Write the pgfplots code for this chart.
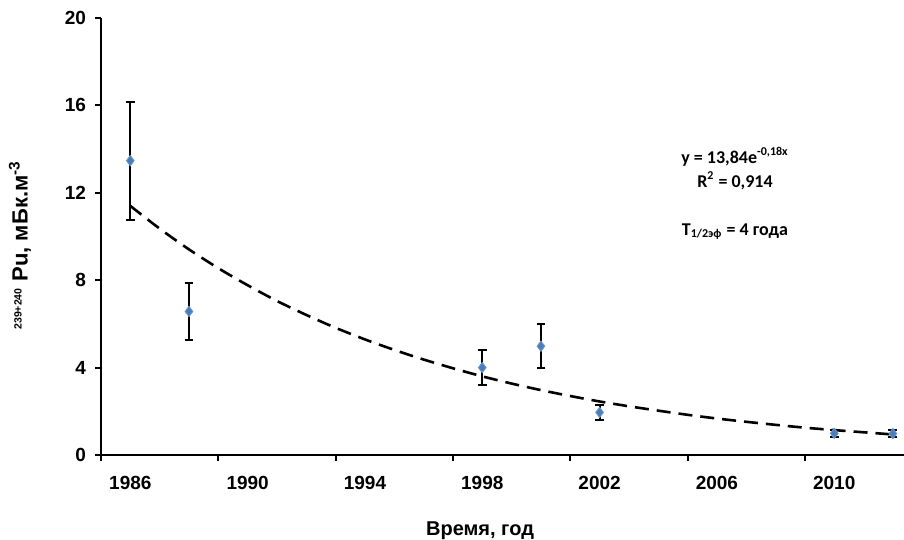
\documentclass[border=0pt]{standalone}
\usepackage{pgfplots}
\pgfplotsset{compat=1.18}
\usepackage{fontspec}
\setmainfont{Liberation Sans}
\newfontfamily\calib{Carlito}

\definecolor{ptblue}{RGB}{74,126,187}

\begin{document}
\begin{tikzpicture}
\begin{axis}[
    scale only axis,
    width=401.5pt, height=218.5pt,
    xmin=1985, xmax=2012.38,
    ymin=0, ymax=20,
    axis x line=bottom, axis y line=left,
    axis line style={-, line width=1pt},
    every tick/.style={black, line width=1pt},
    tick align=outside,
    major tick length=3pt,
    xtick={1985,1989,...,2009},
    xticklabels={},
    extra x ticks={1986,1990,...,2010},
    extra x tick style={major tick length=0pt},
    extra x tick labels={1986,1990,1994,1998,2002,2006,2010},
    ytick={0,4,...,20},
    /pgf/number format/assume math mode=true,
    /pgf/number format/1000 sep={},
    ticklabel style={font=\bfseries\fontsize{9.5}{11}\selectfont},
    xticklabel style={yshift=-7pt},
    yticklabel style={xshift=-1pt},
    xlabel={Время, год},
    xlabel style={font=\bfseries\fontsize{10}{12}\selectfont,
        at={(axis description cs:0.472,0)}, anchor=center, yshift=-38pt},
    ylabel={\fontsize{7.5}{8}\selectfont\textsuperscript{239+240}\fontsize{11}{12}\selectfont\ Pu, мБк.м\textsuperscript{-3}},
    ylabel style={font=\bfseries\fontsize{11}{12}\selectfont,
        at={(axis description cs:0,0.48)}, anchor=center, yshift=40.5pt},
    clip=false,
]
% trend line (exponential fit)
\addplot[black, line width=1.3pt, dash pattern=on 7pt off 4pt, smooth]
coordinates {
    (1986,11.40) (1987,10.36) (1988,9.41) (1989,8.55) (1990,7.77)
    (1991,7.05) (1992,6.41) (1993,5.82) (1994,5.29) (1995,4.81)
    (1996,4.37) (1997,3.97) (1998,3.60) (1999,3.27) (2000,2.97)
    (2001,2.70) (2002,2.45) (2003,2.23) (2004,2.03) (2005,1.84)
    (2006,1.67) (2007,1.52) (2008,1.38) (2009,1.25) (2010,1.14)
    (2011,1.04) (2012,0.94)
};
% measurements
\addplot[only marks, mark=diamond*, mark size=2.6pt,
    mark options={fill=ptblue, draw=ptblue!80!white},
    error bars/.cd, y dir=both, y explicit,
    error bar style={black, line width=1pt},
    error mark options={rotate=90, mark size=2.2pt, black, line width=1pt}]
coordinates {
    (1986,13.47) +- (0,2.70)
    (1988,6.57)  +- (0,1.29)
    (1998,4.00)  +- (0,0.81)
    (2000,4.98)  +- (0,1.00)
    (2002,1.95)  +- (0,0.35)
    (2010,0.99)  +- (0,0.15)
    (2012,0.98)  +- (0,0.15)
};
\end{axis}
\node[font=\calib\bfseries\fontsize{9}{11}\selectfont] at (317pt,149pt) {y = 13,84e\textsuperscript{-0,18x}};
\node[font=\calib\bfseries\fontsize{9}{11}\selectfont] at (317pt,137pt) {R\textsuperscript{2} = 0,914};
\node[font=\calib\bfseries\fontsize{9}{11}\selectfont] at (317pt,111.5pt) {T\textsubscript{1/2эф} = 4 года};
\pgfresetboundingbox
\path (-50.5pt,-42.5pt) rectangle (401.5pt,227.5pt);
\end{tikzpicture}
\end{document}
